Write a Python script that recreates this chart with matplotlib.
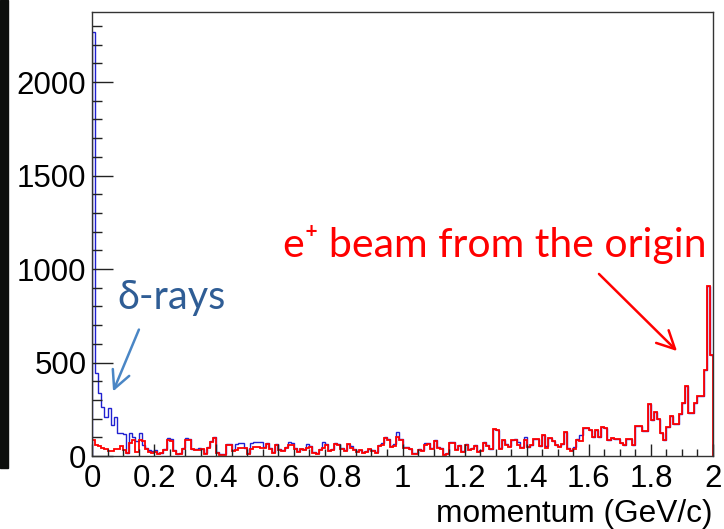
import numpy as np
import matplotlib.pyplot as plt
from matplotlib.patches import Rectangle
from matplotlib.ticker import MultipleLocator, FuncFormatter

plt.rcParams['font.family'] = ['Liberation Sans', 'DejaVu Sans']

# --- histogram: 200 bins from 0 to 2 GeV/c ---
edges = np.linspace(0, 2, 201)

# all tracks (blue)
blue_counts = [
    2270, 444, 337, 264, 210, 257, 166, 210, 123, 123,
    120, 15, 123, 100, 80, 123, 60, 45, 30, 25,
    30, 15, 15, 35, 95, 90, 30, 10, 15, 45,
    95, 90, 40, 40, 45, 40, 15, 50, 80, 100,
    20, 10, 10, 65, 65, 30, 65, 70, 70, 45,
    15, 70, 75, 75, 75, 50, 70, 45, 20, 65,
    35, 30, 50, 75, 70, 45, 25, 40, 35, 65,
    55, 20, 15, 35, 75, 65, 30, 35, 70, 65,
    45, 30, 65, 55, 35, 25, 30, 20, 25, 40,
    30, 20, 60, 70, 100, 90, 55, 65, 130, 90,
    50, 50, 40, 15, 15, 35, 30, 70, 70, 45,
    85, 50, 45, 10, 15, 75, 75, 35, 60, 25,
    65, 35, 45, 60, 25, 30, 75, 60, 40, 145,
    140, 45, 85, 65, 55, 85, 90, 75, 50, 100,
    50, 60, 90, 90, 55, 115, 55, 95, 80, 60,
    55, 65, 130, 45, 30, 50, 90, 115, 150, 150,
    140, 100, 139, 103, 157, 150, 86, 95, 90, 90,
    68, 60, 90, 90, 60, 162, 160, 135, 135, 278,
    193, 237, 200, 123, 87, 157, 214, 170, 170, 225,
    282, 374, 232, 232, 282, 321, 321, 460, 909, 540,
]

# tracks from the origin (red)
red_counts = [
    85, 58, 55, 43, 40, 28, 28, 40, 40, 55,
    30, 15, 70, 85, 20, 85, 80, 40, 20, 15,
    20, 10, 15, 30, 85, 80, 25, 10, 10, 40,
    85, 85, 35, 30, 30, 35, 10, 45, 75, 95,
    15, 5, 5, 60, 60, 25, 30, 45, 45, 45,
    10, 40, 50, 50, 45, 45, 65, 40, 15, 60,
    30, 25, 45, 60, 60, 40, 20, 35, 30, 45,
    50, 15, 10, 30, 45, 60, 25, 30, 65, 60,
    40, 25, 65, 45, 30, 20, 30, 15, 20, 35,
    25, 15, 55, 60, 95, 85, 50, 55, 100, 85,
    45, 45, 35, 10, 10, 30, 25, 60, 65, 40,
    80, 45, 40, 5, 10, 70, 70, 30, 55, 20,
    60, 30, 40, 55, 20, 25, 70, 55, 35, 145,
    140, 40, 85, 60, 50, 85, 85, 60, 45, 85,
    50, 60, 90, 90, 55, 115, 45, 95, 80, 60,
    50, 65, 130, 40, 25, 40, 85, 80, 150, 150,
    140, 100, 139, 103, 157, 150, 86, 95, 90, 90,
    68, 60, 90, 90, 60, 162, 160, 135, 135, 278,
    193, 237, 200, 123, 87, 157, 214, 170, 170, 225,
    282, 374, 232, 232, 282, 321, 321, 460, 909, 540,
]

W, H = 724, 529
fig = plt.figure(figsize=(W / 100, H / 100), dpi=100)
ax = fig.add_axes([92 / W, 1 - 456 / H, (713 - 92) / W, (456 - 12) / H])

ax.stairs(blue_counts, edges, color='#2020d0', lw=1.0)
ax.stairs(red_counts, edges, color='#ff0000', lw=1.3)

ax.set_xlim(0, 2)
ax.set_ylim(0, 2375)

# ROOT-like ticks
ax.xaxis.set_major_locator(MultipleLocator(0.2))
ax.xaxis.set_minor_locator(MultipleLocator(0.05))
ax.yaxis.set_major_locator(MultipleLocator(500))
ax.yaxis.set_minor_locator(MultipleLocator(100))
ax.xaxis.set_major_formatter(FuncFormatter(lambda v, p: '%g' % round(v, 2)))
ax.tick_params(axis='both', which='both', direction='in', color='#222222',
               width=1.0, labelsize=22.5, top=False, right=False)
ax.tick_params(axis='y', which='major', length=15, pad=4)
ax.tick_params(axis='y', which='minor', length=7.5)
ax.tick_params(axis='x', which='major', length=9, pad=6)
ax.tick_params(axis='x', which='minor', length=5)
for sp in ax.spines.values():
    sp.set_color('#333333')
    sp.set_linewidth(1.0)

fig.text(713 / W, 1 - 514 / H, 'momentum (GeV/c)', ha='right', va='center',
         fontsize=22.8)

# --- annotations ---
ann_font = ['Lato', 'DejaVu Sans']
fig.text(283 / W, 1 - 244 / H, 'e\u207a beam from the origin', color='#ff0000',
         fontsize=29.5, family=ann_font, ha='left', va='center')
ax.annotate('', xy=(679, H - 353), xycoords='figure pixels',
            xytext=(597, H - 272), textcoords='figure pixels',
            arrowprops=dict(arrowstyle='->', color='#ff0000', lw=1.8,
                            mutation_scale=32))

fig.text(117 / W, 1 - 297 / H, '\u03b4-rays', color='#2f5d95',
         fontsize=28.5, family=ann_font, ha='left', va='center')
ax.annotate('', xy=(112, H - 394), xycoords='figure pixels',
            xytext=(140, H - 327), textcoords='figure pixels',
            arrowprops=dict(arrowstyle='->', color='#4a86c5', lw=1.8,
                            mutation_scale=32))

# dark strip at the left edge of the screenshot
fig.patches.append(Rectangle((0, 1 - 468 / H), 8 / W, 468 / H,
                             transform=fig.transFigure, color='#0d0f0d',
                             zorder=0))

fig.savefig('out.png', dpi=100)
